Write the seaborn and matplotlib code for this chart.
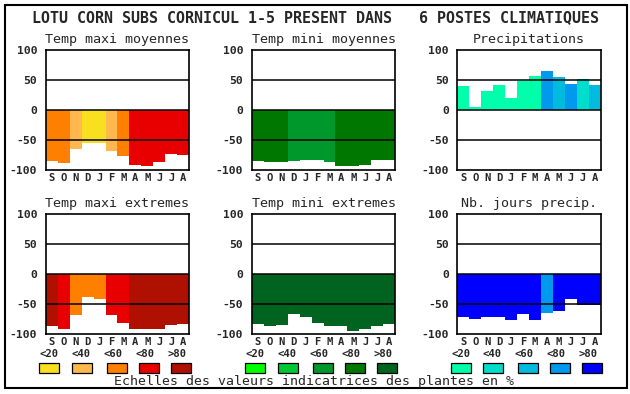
import matplotlib
matplotlib.use("Agg")
import matplotlib.pyplot as plt
from matplotlib.patches import Rectangle
import seaborn as sns

sns.set_style("white")
plt.rcParams["font.family"] = ["DejaVu Sans Mono", "DejaVu Sans"]

# data
months = ["S", "O", "N", "D", "J", "F", "M", "A", "M", "J", "J", "A"]
classes = ["<20", "<40", "<60", "<80", ">80"]

warm_colors = ["#F8E020", "#FFB84D", "#FF8000", "#E80000", "#B01000"]
green_colors = ["#00FF00", "#00C832", "#00982A", "#007800", "#006420"]
blue_colors = ["#00FFAA", "#00DDCC", "#00BBDD", "#0099EE", "#0000FF"]

tmax_moy = [-85, -88, -64, -55, -55, -68, -76, -92, -93, -87, -73, -75]
tmax_moy_cls = [2, 2, 1, 0, 0, 1, 2, 3, 3, 3, 3, 3]

tmin_moy = [-85, -86, -86, -84, -83, -83, -86, -93, -93, -91, -83, -83]
tmin_moy_cls = [3, 3, 3, 2, 2, 2, 2, 3, 3, 3, 3, 3]

precip = [40, 5, 32, 42, 20, 49, 57, 65, 55, 43, 52, 42]
precip_cls = [0, 0, 0, 0, 0, 0, 0, 3, 2, 3, 1, 2]

tmax_ext = [-87, -91, -68, -38, -42, -68, -81, -91, -91, -91, -84, -83]
tmax_ext_cls = [4, 3, 2, 2, 2, 3, 3, 4, 4, 4, 4, 4]

tmin_ext = [-83, -87, -84, -66, -71, -81, -86, -87, -94, -92, -86, -83]
tmin_ext_cls = [4, 4, 4, 4, 4, 4, 4, 4, 4, 4, 4, 4]

nb_jours = [-71, -74, -72, -72, -76, -66, -77, -64, -61, -42, -52, -51]
nb_jours_cls = [4, 4, 4, 4, 4, 4, 4, 3, 4, 4, 4, 4]

panels = [
    ("Temp maxi moyennes", tmax_moy, tmax_moy_cls, warm_colors),
    ("Temp mini moyennes", tmin_moy, tmin_moy_cls, green_colors),
    ("Precipitations", precip, precip_cls, blue_colors),
    ("Temp maxi extremes", tmax_ext, tmax_ext_cls, warm_colors),
    ("Temp mini extremes", tmin_ext, tmin_ext_cls, green_colors),
    ("Nb. jours precip.", nb_jours, nb_jours_cls, blue_colors),
]

W, H = 630, 394
fig = plt.figure(figsize=(W / 100, H / 100), dpi=100)

col_left = [45.7, 251.7, 457.3]
row_top = [50, 214]
ax_w, ax_h = 143.6, 120.3
small = 7.6

for i, (title, vals, cls, cols) in enumerate(panels):
    r, c = divmod(i, 3)
    ax = fig.add_axes([col_left[c] / W, (H - row_top[r] - ax_h) / H, ax_w / W, ax_h / H])
    sns.barplot(x=list(range(12)), y=vals, hue=list(range(12)),
                palette=[cols[k] for k in cls], width=1, saturation=1,
                linewidth=0, legend=False, ax=ax)
    ax.set_xlim(-0.5, 11.5)
    ax.set_ylim(-100, 100)
    for yv in (-50, 0, 50):
        ax.axhline(yv, color="black", lw=1.1, zorder=3)
    ax.set_yticks([-100, -50, 0, 50, 100])
    ax.set_yticklabels(["-100", "-50", "0", "50", "100"], fontweight="bold", fontsize=8.2)
    ax.set_xticks(range(12))
    ax.set_xticklabels(months, fontweight="bold", fontsize=small)
    ax.tick_params(axis="y", length=0, pad=6)
    ax.tick_params(axis="x", length=0, pad=1.8)
    ax.set_xlabel("")
    ax.set_ylabel("")
    for sp in ax.spines.values():
        sp.set_visible(True)
        sp.set_color("black")
        sp.set_linewidth(1.2)
    ax.set_title(title, fontsize=9.6, pad=5)

# class legends under each column
lab_pos = [-0.225, 2.44, 5.1, 7.77, 10.44]
sw_pos = [-0.225, 2.5, 5.44, 8.11, 10.79]
for c, cols in enumerate([warm_colors, green_colors, blue_colors]):
    lax = fig.add_axes([col_left[c] / W, 19 / H, ax_w / W, 30 / H])
    lax.set_xlim(-0.5, 11.5)
    lax.set_ylim(0, 1)
    lax.axis("off")
    lax.bar(sw_pos, 0.333, width=1.67, bottom=0.067, color=cols,
            edgecolor="black", linewidth=0.9, clip_on=False)
    for xp, lab in zip(lab_pos, classes):
        lax.text(xp, 0.70, lab, ha="center", va="center",
                 fontweight="bold", fontsize=small, clip_on=False)

fig.text(0.5, 1 - 18 / H, "LOTU CORN SUBS CORNICUL 1-5 PRESENT DANS   6 POSTES CLIMATIQUES",
         ha="center", va="center", fontsize=10.85, fontweight="bold")
fig.text(314.5 / W, 1 - 382 / H, "Echelles des valeurs indicatrices des plantes en %",
         ha="center", va="center", fontsize=9.5)

fig.add_artist(Rectangle((4.5 / W, (H - 388) / H), 622 / W, 383.5 / H,
                         transform=fig.transFigure, fill=False,
                         edgecolor="black", lw=1.5))

fig.savefig("out.png", dpi=100)
